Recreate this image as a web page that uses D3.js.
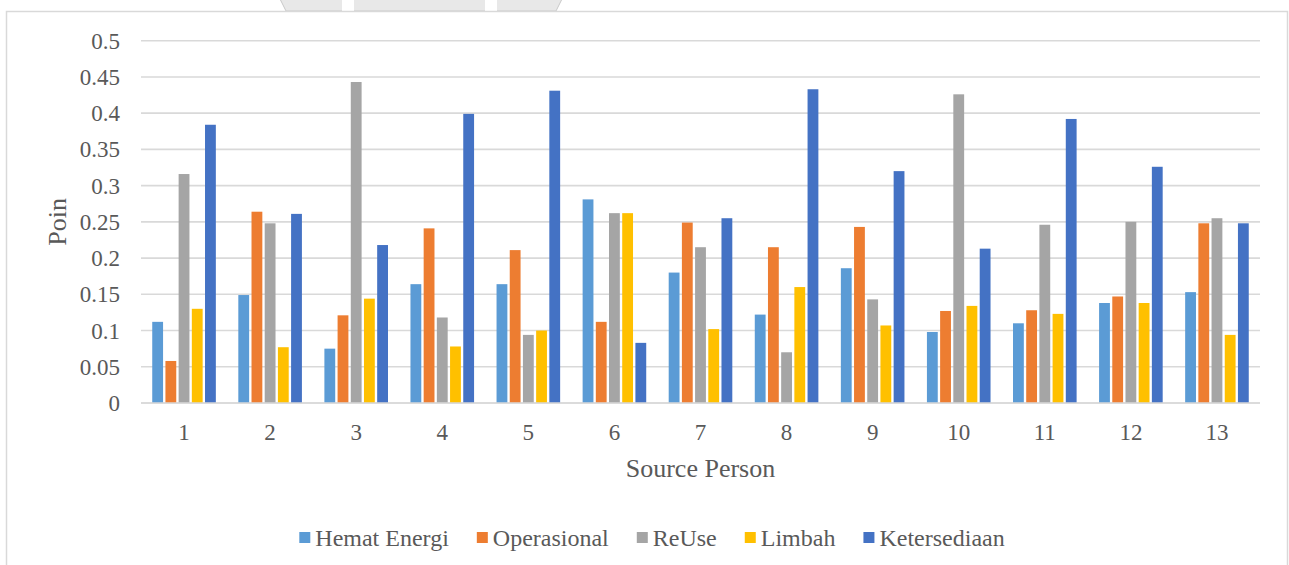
<!DOCTYPE html>
<html>
<head>
<meta charset="utf-8">
<script src="https://cdn.jsdelivr.net/npm/d3@7"></script>
<style>
  html, body { margin: 0; padding: 0; background: #ffffff; }
  svg { display: block; }
</style>
</head>
<body>
<svg id="chart" width="1289" height="565" font-family="'Liberation Serif', 'Times New Roman', serif"></svg>
<script>
// Respondents (source persons) on the x axis
const categories = ["1", "2", "3", "4", "5", "6", "7", "8", "9", "10", "11", "12", "13"];

// Series names and their scores per respondent
const seriesNames = ["Hemat Energi", "Operasional", "ReUse", "Limbah", "Ketersediaan"];
const hematEnergi  = [0.112, 0.149, 0.075, 0.164, 0.164, 0.281, 0.180, 0.122, 0.186, 0.098, 0.110, 0.138, 0.153];
const operasional  = [0.058, 0.264, 0.121, 0.241, 0.211, 0.112, 0.249, 0.215, 0.243, 0.127, 0.128, 0.147, 0.248];
const reUse        = [0.316, 0.248, 0.443, 0.118, 0.094, 0.262, 0.215, 0.070, 0.143, 0.426, 0.246, 0.250, 0.255];
const limbah       = [0.130, 0.077, 0.144, 0.078, 0.100, 0.262, 0.102, 0.160, 0.107, 0.134, 0.123, 0.138, 0.094];
const ketersediaan = [0.384, 0.261, 0.218, 0.399, 0.431, 0.083, 0.255, 0.433, 0.320, 0.213, 0.392, 0.326, 0.248];

// Y axis ticks
const yTicks = [0, 0.05, 0.1, 0.15, 0.2, 0.25, 0.3, 0.35, 0.4, 0.45, 0.5];
const yTickLabels = ["0", "0.05", "0.1", "0.15", "0.2", "0.25", "0.3", "0.35", "0.4", "0.45", "0.5"];

const xTitle = "Source Person";
const yTitle = "Poin";

const seriesValues = [hematEnergi, operasional, reUse, limbah, ketersediaan];
const colors = ["#5b9bd5", "#ed7d31", "#a5a5a5", "#ffc000", "#4472c4"];

const FONT = "'Liberation Serif', 'Times New Roman', serif";
const TEXT_COLOR = "#595959";

const svg = d3.select("#chart");

// Decorative tab shape above the chart frame
const deco = svg.append("g");
deco.append("path")
  .attr("d", "M280,-1 L286,11 L556,11 L562,-1 Z")
  .attr("fill", "#e8e8e8").attr("stroke", "#c8c8c8").attr("stroke-width", 1);
deco.append("rect").attr("x", 342).attr("y", -1).attr("width", 12).attr("height", 12).attr("fill", "#ffffff");
deco.append("rect").attr("x", 485).attr("y", -1).attr("width", 12).attr("height", 12).attr("fill", "#ffffff");

// Chart frame
svg.append("rect")
  .attr("x", 6.5).attr("y", 11.5).attr("width", 1281).attr("height", 570)
  .attr("fill", "#ffffff").attr("stroke", "#d9d9d9").attr("stroke-width", 1.5);

const plot = { left: 141, right: 1260, top: 40.7, bottom: 403 };

const y = d3.scaleLinear().domain([0, 0.5]).range([plot.bottom, plot.top]);
const x0 = d3.scaleBand().domain(categories).range([plot.left, plot.right]).padding(0);
const groupInner = 63.6;
const x1 = d3.scaleBand().domain(seriesNames)
  .range([(x0.bandwidth() - groupInner) / 2, (x0.bandwidth() + groupInner) / 2])
  .paddingInner(0.18).paddingOuter(0);

// Gridlines
svg.append("g").selectAll("line")
  .data(yTicks)
  .join("line")
  .attr("x1", plot.left).attr("x2", plot.right)
  .attr("y1", d => y(d)).attr("y2", d => y(d))
  .attr("stroke", "#d9d9d9").attr("stroke-width", 1.6);

// Y tick labels
svg.append("g").selectAll("text")
  .data(yTicks)
  .join("text")
  .attr("x", 120).attr("y", d => y(d))
  .attr("dy", "0.35em")
  .attr("text-anchor", "end")
  .attr("font-family", FONT).attr("font-size", 23).attr("fill", TEXT_COLOR)
  .text((d, i) => yTickLabels[i]);

// Bars
const groups = svg.append("g").selectAll("g")
  .data(categories)
  .join("g")
  .attr("transform", d => `translate(${x0(d)},0)`);

groups.selectAll("rect")
  .data((c, ci) => seriesNames.map((s, si) => ({ s, si, v: seriesValues[si][ci] })))
  .join("rect")
  .attr("x", d => x1(d.s))
  .attr("width", x1.bandwidth())
  .attr("y", d => y(d.v))
  .attr("height", d => y(0) - y(d.v))
  .attr("fill", d => colors[d.si]);

// X axis baseline
svg.append("line")
  .attr("x1", plot.left).attr("x2", plot.right)
  .attr("y1", y(0)).attr("y2", y(0))
  .attr("stroke", "#d9d9d9").attr("stroke-width", 1.6);

// X tick labels
svg.append("g").selectAll("text")
  .data(categories)
  .join("text")
  .attr("x", d => x0(d) + x0.bandwidth() / 2)
  .attr("y", 432).attr("dy", "0.35em")
  .attr("text-anchor", "middle")
  .attr("font-family", FONT).attr("font-size", 23).attr("fill", TEXT_COLOR)
  .text(d => d);

// Axis titles
svg.append("text")
  .attr("x", (plot.left + plot.right) / 2).attr("y", 468).attr("dy", "0.35em")
  .attr("text-anchor", "middle")
  .attr("font-family", FONT).attr("font-size", 26).attr("fill", TEXT_COLOR)
  .text(xTitle);

svg.append("text")
  .attr("transform", `translate(57,${(plot.top + plot.bottom) / 2}) rotate(-90)`)
  .attr("dy", "0.35em")
  .attr("text-anchor", "middle")
  .attr("font-family", FONT).attr("font-size", 26).attr("fill", TEXT_COLOR)
  .text(yTitle);

// Legend
const legend = svg.append("g");
const items = legend.selectAll("g")
  .data(seriesNames)
  .join("g");
items.append("rect")
  .attr("width", 11).attr("height", 11)
  .attr("y", 532)
  .attr("fill", (d, i) => colors[i]);
items.append("text")
  .attr("x", 16).attr("y", 537.5).attr("dy", "0.35em")
  .attr("font-family", FONT).attr("font-size", 24).attr("fill", TEXT_COLOR)
  .text(d => d);

const gap = 28;
const widths = [];
items.each(function () {
  widths.push(16 + this.querySelector("text").getComputedTextLength());
});
const total = d3.sum(widths) + gap * (widths.length - 1);
let cx = 652 - total / 2;
items.each(function (d, i) {
  d3.select(this).attr("transform", `translate(${cx},0)`);
  cx += widths[i] + gap;
});
</script>
</body>
</html>
